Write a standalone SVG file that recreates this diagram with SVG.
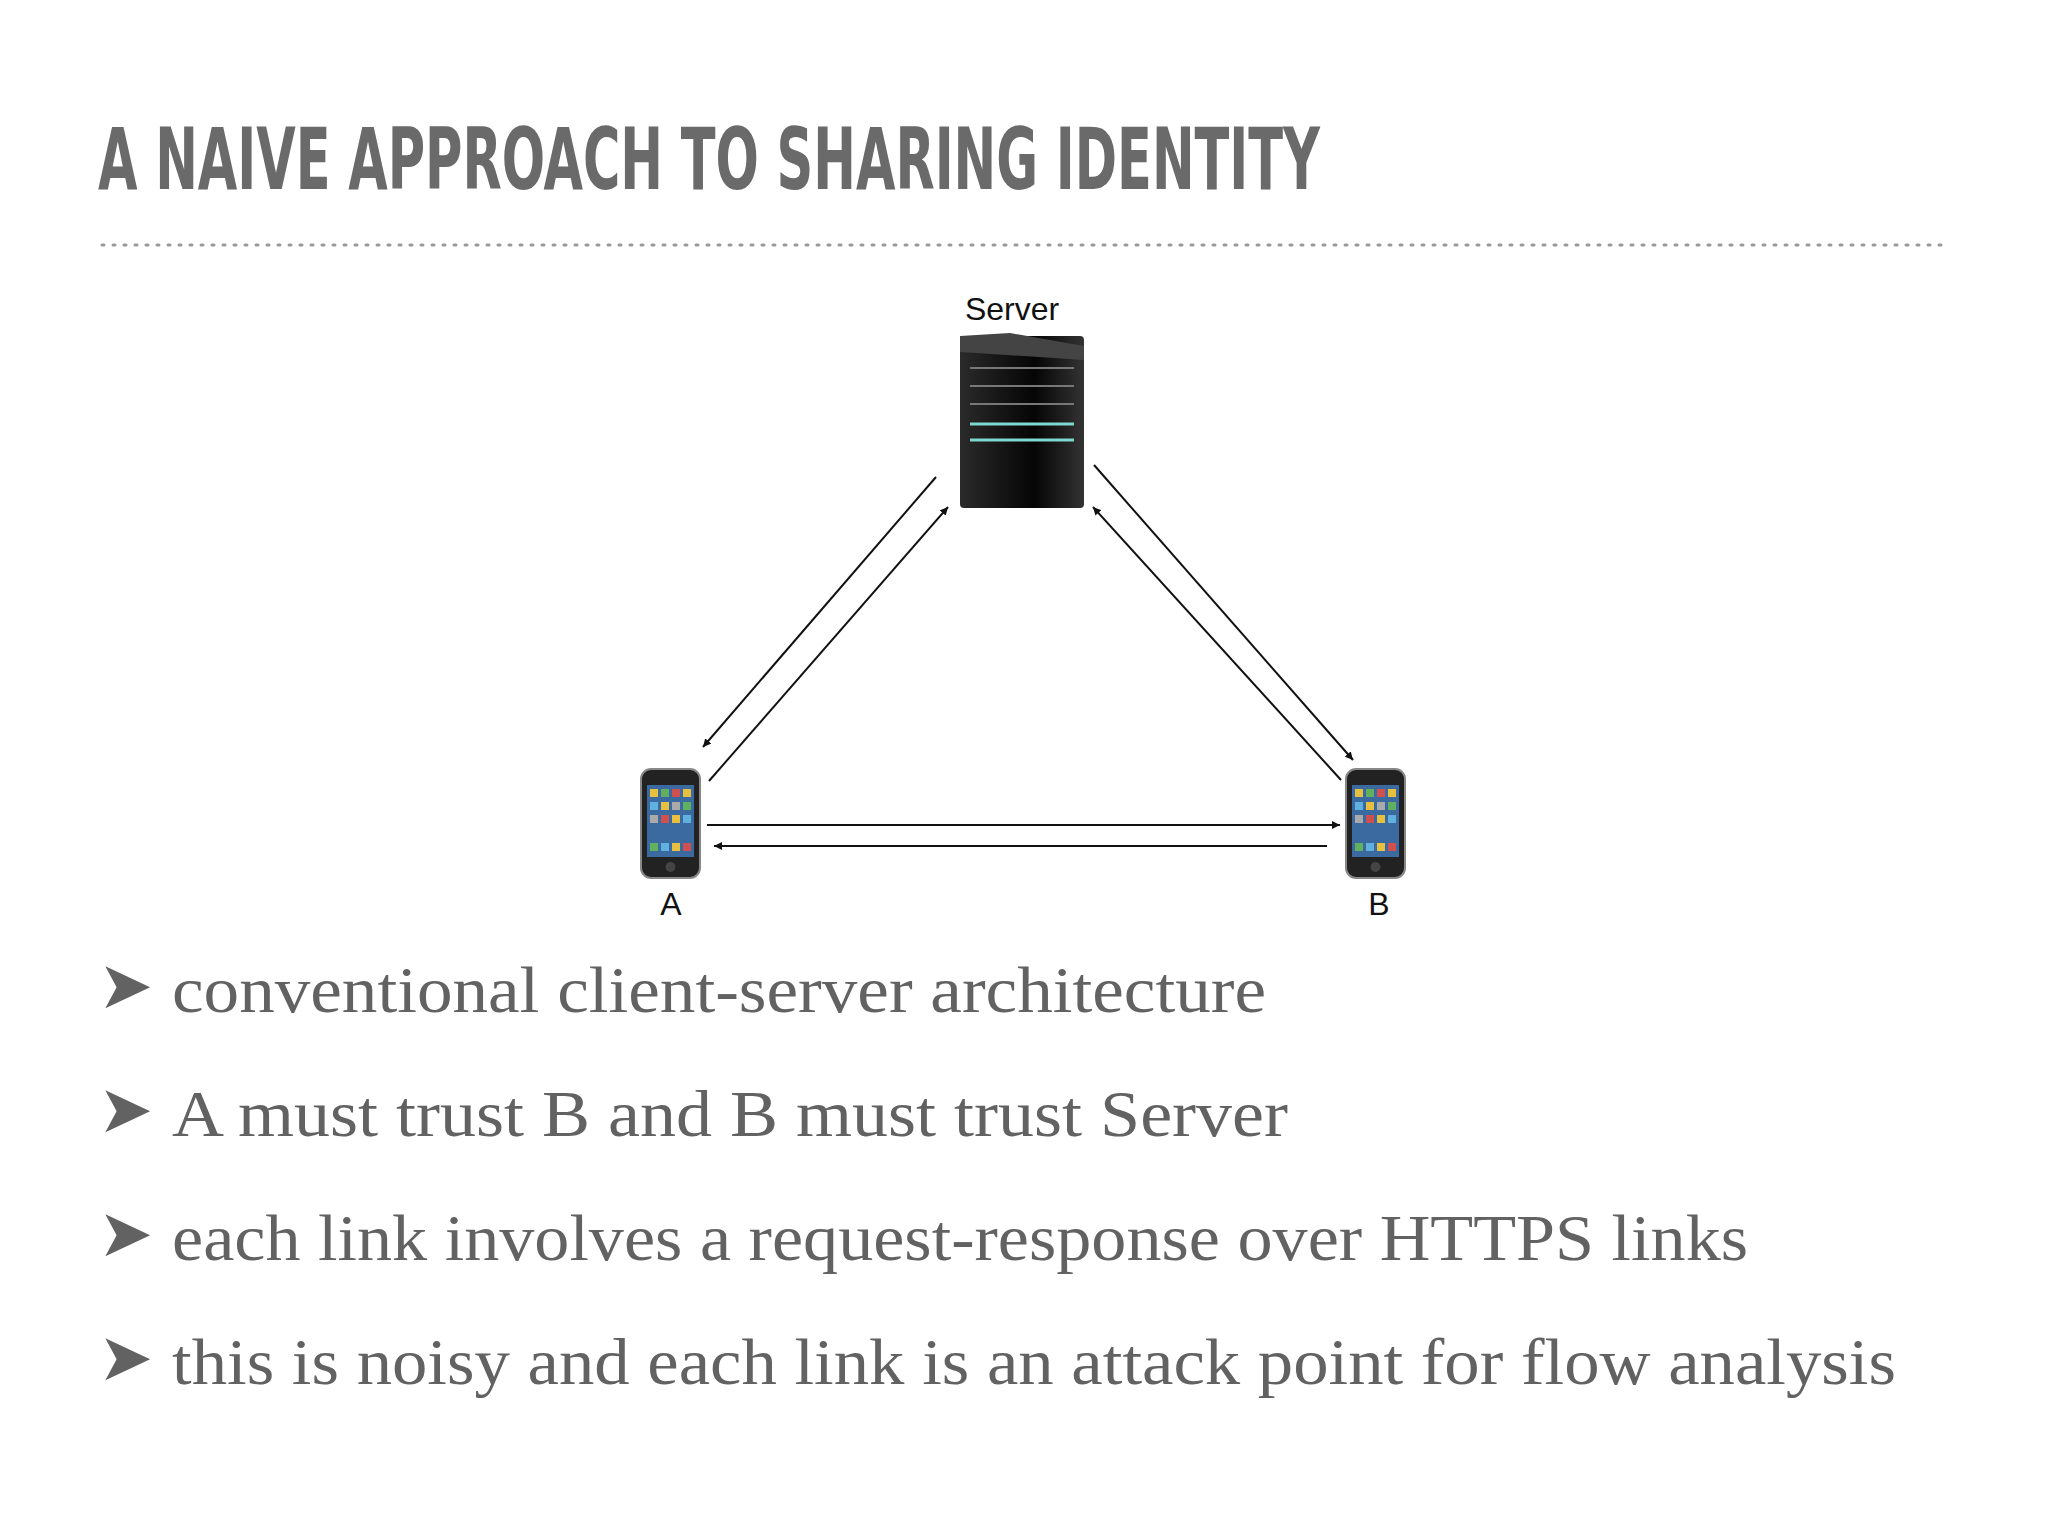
<svg xmlns="http://www.w3.org/2000/svg" width="2048" height="1536" viewBox="0 0 2048 1536">
<defs>
<style>
.t{font-family:"DejaVu Sans Condensed","Liberation Sans Narrow",sans-serif;font-weight:bold;fill:#6a6a6a}
.b{font-family:"Liberation Serif",serif;fill:#626262;font-size:66px}
.l{font-family:"Liberation Sans",Arial,sans-serif;font-size:32px;fill:#111}
.c{stroke:#111;stroke-width:2;fill:none;marker-end:url(#ah)}
</style>
<marker id="ah" viewBox="0 0 10 10" refX="10" refY="5" markerWidth="8" markerHeight="8" orient="auto-start-reverse" markerUnits="userSpaceOnUse"><path d="M0,0 L10,5 L0,10 z" fill="#111"/></marker>
<linearGradient id="sv" x1="0" x2="1"><stop offset="0" stop-color="#2a2a2a"/><stop offset="0.6" stop-color="#050505"/><stop offset="1" stop-color="#333"/></linearGradient>
<g id="phone"><rect x="0" y="0" width="59" height="109" rx="10" fill="#222" stroke="#888" stroke-width="2"/><rect x="6" y="16" width="47" height="72" fill="#3a6aa0"/><g fill="#e8c040"><rect x="9" y="20" width="8" height="8"/><rect x="20" y="20" width="8" height="8" fill="#60b060"/><rect x="31" y="20" width="8" height="8" fill="#d05050"/><rect x="42" y="20" width="8" height="8"/><rect x="9" y="33" width="8" height="8" fill="#60b0e0"/><rect x="20" y="33" width="8" height="8"/><rect x="31" y="33" width="8" height="8" fill="#aaa"/><rect x="42" y="33" width="8" height="8" fill="#60b060"/><rect x="9" y="46" width="8" height="8" fill="#aaa"/><rect x="20" y="46" width="8" height="8" fill="#d05050"/><rect x="31" y="46" width="8" height="8"/><rect x="42" y="46" width="8" height="8" fill="#60b0e0"/><rect x="9" y="74" width="8" height="8" fill="#60b060"/><rect x="20" y="74" width="8" height="8" fill="#60b0e0"/><rect x="31" y="74" width="8" height="8"/><rect x="42" y="74" width="8" height="8" fill="#d05050"/></g><circle cx="29.5" cy="98" r="5" fill="#444"/></g>
</defs>
<rect width="2048" height="1536" fill="#fff"/>
<text class="t" x="98" y="189" font-size="86" textLength="1222" lengthAdjust="spacingAndGlyphs">A NAIVE APPROACH TO SHARING IDENTITY</text>
<line x1="102" y1="245" x2="1946" y2="245" stroke="#999" stroke-width="3" stroke-dasharray="2 9" stroke-linecap="round"/>
<g id="server"><text class="l" x="1012" y="320" text-anchor="middle">Server</text><rect x="960" y="336" width="124" height="172" rx="4" fill="url(#sv)"/><polygon points="960,336 1010,333 1084,346 1084,360 960,352" fill="#444"/><g stroke="#777" stroke-width="2"><line x1="970" y1="368" x2="1074" y2="368"/><line x1="970" y1="386" x2="1074" y2="386"/><line x1="970" y1="404" x2="1074" y2="404"/></g><line x1="970" y1="424" x2="1074" y2="424" stroke="#7fd8d0" stroke-width="3"/><line x1="970" y1="440" x2="1074" y2="440" stroke="#7fd8d0" stroke-width="3"/></g>
<g id="A"><use href="#phone" x="641" y="769"/><text class="l" x="671" y="915" text-anchor="middle">A</text></g>
<g id="B"><use href="#phone" x="1346" y="769"/><text class="l" x="1379" y="915" text-anchor="middle">B</text></g>
<g id="connectors">
<line class="c" x1="936" y1="477" x2="703" y2="747"/>
<line class="c" x1="709" y1="781" x2="948" y2="507"/>
<line class="c" x1="1094" y1="465" x2="1353" y2="760"/>
<line class="c" x1="1341" y1="780" x2="1093" y2="507"/>
<line class="c" x1="707" y1="825" x2="1340" y2="825"/>
<line class="c" x1="1327" y1="846" x2="714" y2="846"/>
</g>
<g id="bullets">
<text class="b" x="98" y="1008" font-size="48">➤</text><text class="b" x="172" y="1012" textLength="1094" lengthAdjust="spacingAndGlyphs">conventional client-server architecture</text>
<text class="b" x="98" y="1132" font-size="48">➤</text><text class="b" x="172" y="1136" textLength="1116" lengthAdjust="spacingAndGlyphs">A must trust B and B must trust Server</text>
<text class="b" x="98" y="1256" font-size="48">➤</text><text class="b" x="172" y="1260" textLength="1576" lengthAdjust="spacingAndGlyphs">each link involves a request-response over HTTPS links</text>
<text class="b" x="98" y="1380" font-size="48">➤</text><text class="b" x="172" y="1384" textLength="1724" lengthAdjust="spacingAndGlyphs">this is noisy and each link is an attack point for flow analysis</text>
</g>
</svg>
